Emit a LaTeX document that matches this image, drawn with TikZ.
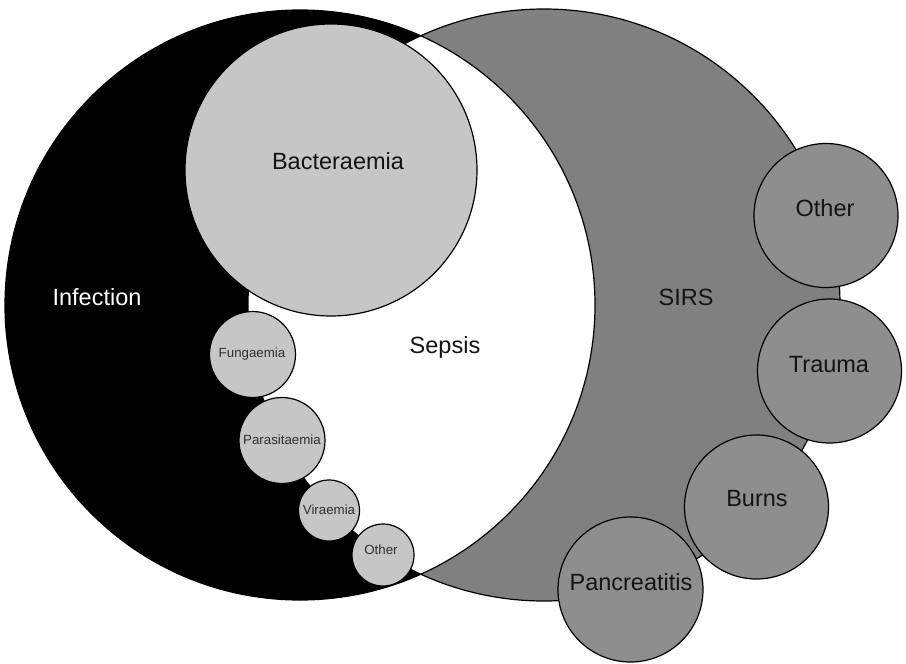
\documentclass[tikz,border=0pt]{standalone}
\usepackage{fontspec}
\setmainfont{Liberation Sans}
\definecolor{sirsgray}{HTML}{808080}
\definecolor{sirssub}{HTML}{8E8E8E}
\definecolor{infsub}{HTML}{C6C6C6}
\definecolor{smalltext}{HTML}{303030}
\begin{document}
\begin{tikzpicture}[x=1pt,y=-1pt,
  outline/.style={draw=black, line width=1.2pt},
  bigcirc/.style={circle, inner sep=0pt, minimum size=#1},
  infcirc/.style={circle, inner sep=0pt, outline, fill=infsub, minimum size=#1},
  sirscirc/.style={circle, inner sep=0pt, outline, fill=sirssub, minimum size=#1},
  biglabel/.style={inner sep=0pt, font=\fontsize{23.5}{26}\selectfont, text=black!92},
  smalllabel/.style={inner sep=0pt, font=\fontsize{13.3}{15}\selectfont, text=smalltext}]
\useasboundingbox (0,0) rectangle (906,664);
% main circles
\fill[black] (300,305) circle[radius=295pt];
\fill[sirsgray] (544,305) circle[radius=296pt];
\begin{scope}
  \clip (300,305) circle[radius=295pt];
  \fill[white] (544,305) circle[radius=296pt];
\end{scope}
\node[bigcirc=590pt, outline] (infection) at (300,305) {};
\node[bigcirc=592pt, outline] (sirs) at (544,305) {};
% infection sub-circles
\node[infcirc=292pt] (bact) at (331,170) {};
\node[infcirc=86pt] (fung) at (252.5,354.5) {};
\node[infcirc=86pt] (para) at (282,440.5) {};
\node[infcirc=61pt] (vira) at (329,510.5) {};
\node[infcirc=62pt] (iother) at (383,555) {};
% SIRS sub-circles
\node[sirscirc=144pt] (sother) at (826,215.5) {};
\node[sirscirc=144pt] (trauma) at (829.5,371) {};
\node[sirscirc=144pt] (burns) at (756.5,507) {};
\node[sirscirc=145pt] (panc) at (630.5,589.5) {};
% labels
\node[biglabel, text=white] (infectionlbl) at (97,297) {Infection};
\node[biglabel] (bactlbl) at (338,161) {Bacteraemia};
\node[biglabel] (sepsislbl) at (445,347) {Sepsis};
\node[biglabel] (sirslbl) at (686,297) {SIRS};
\node[biglabel] (sotherlbl) at (825,208) {Other};
\node[biglabel] (traumalbl) at (829,365) {Trauma};
\node[biglabel] (burnslbl) at (757,499) {Burns};
\node[biglabel] (panclbl) at (631,582) {Pancreatitis};
\node[smalllabel] (funglbl) at (252,354) {Fungaemia};
\node[smalllabel] (paralbl) at (282,440) {Parasitaemia};
\node[smalllabel] (viralbl) at (329,510) {Viraemia};
\node[smalllabel] (iotherlbl) at (381,550) {Other};
\end{tikzpicture}
\end{document}
